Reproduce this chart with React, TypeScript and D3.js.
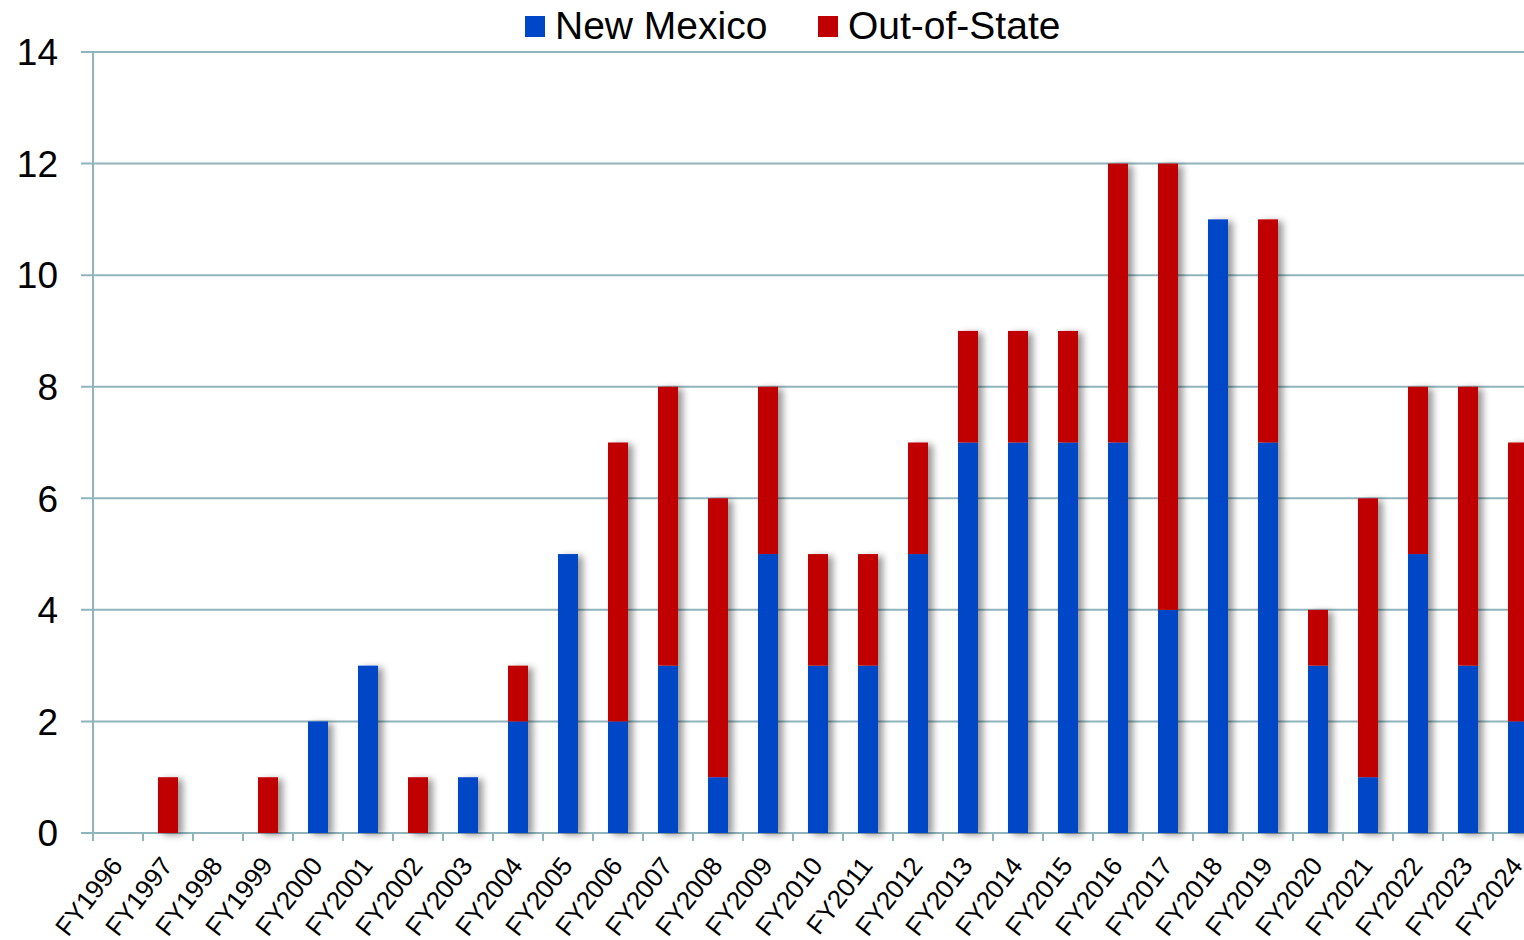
import * as d3 from "d3";
import { useEffect, useRef } from "react";

const years = [
  "FY1996", "FY1997", "FY1998", "FY1999", "FY2000", "FY2001", "FY2002", "FY2003",
  "FY2004", "FY2005", "FY2006", "FY2007", "FY2008", "FY2009", "FY2010", "FY2011",
  "FY2012", "FY2013", "FY2014", "FY2015", "FY2016", "FY2017", "FY2018", "FY2019",
  "FY2020", "FY2021", "FY2022", "FY2023", "FY2024",
];
const newMexico = [0, 0, 0, 0, 2, 3, 0, 1, 2, 5, 2, 3, 1, 5, 3, 3, 5, 7, 7, 7, 7, 4, 11, 7, 3, 1, 5, 3, 2];
const outOfState = [0, 1, 0, 1, 0, 0, 1, 0, 1, 0, 5, 5, 5, 3, 2, 2, 2, 2, 2, 2, 5, 8, 0, 4, 1, 5, 3, 5, 5];
const yTicks = [0, 2, 4, 6, 8, 10, 12, 14];

const seriesNames = ["New Mexico", "Out-of-State"];
const colors = ["#0046c8", "#c00000"];

const W = 1524;
const H = 940;
const axisColor = "#8fb4bc";
const font = "'Liberation Sans', Arial, sans-serif";

export default function App() {
  const ref = useRef<SVGSVGElement>(null);

  useEffect(() => {
    const svg = d3.select(ref.current);
    svg.selectAll("*").remove();

    const left = 93;
    const top = 52;
    const bottom = 833;
    const step = 50;

    // chart runs past the right edge, as in the picture
    const x = d3.scaleBand<string>().domain(years).range([left, left + step * years.length]);
    const y = d3.scaleLinear().domain([0, 14]).range([bottom, top]);

    const defs = svg.append("defs");
    const f = defs.append("filter").attr("id", "shadow")
      .attr("x", "-50%").attr("y", "-10%").attr("width", "200%").attr("height", "120%");
    f.append("feDropShadow")
      .attr("dx", 5).attr("dy", 2).attr("stdDeviation", 3.5)
      .attr("flood-color", "#000").attr("flood-opacity", 0.4);

    // gridlines
    svg.append("g").selectAll("line")
      .data(yTicks)
      .join("line")
      .attr("x1", left - 12)
      .attr("x2", W)
      .attr("y1", (d) => y(d))
      .attr("y2", (d) => y(d))
      .attr("stroke", axisColor)
      .attr("stroke-width", 2);

    // y axis line
    svg.append("line")
      .attr("x1", left).attr("x2", left)
      .attr("y1", top).attr("y2", bottom)
      .attr("stroke", axisColor).attr("stroke-width", 2);

    // x ticks at band edges
    svg.append("g").selectAll("line")
      .data(years)
      .join("line")
      .attr("x1", (d) => x(d)!)
      .attr("x2", (d) => x(d)!)
      .attr("y1", bottom)
      .attr("y2", bottom + 8)
      .attr("stroke", axisColor)
      .attr("stroke-width", 2);

    // y labels
    svg.append("g").selectAll("text")
      .data(yTicks)
      .join("text")
      .attr("x", 58)
      .attr("y", (d) => y(d))
      .attr("dy", "0.36em")
      .attr("text-anchor", "end")
      .attr("font-family", font)
      .attr("font-size", 37)
      .attr("fill", "#000")
      .text((d) => d);

    // x labels
    svg.append("g").selectAll("text")
      .data(years)
      .join("text")
      .attr("transform", (d) => `translate(${x(d)! + x.bandwidth() / 2 + 6},${bottom + 33}) rotate(-52)`)
      .attr("text-anchor", "end")
      .attr("font-family", font)
      .attr("font-size", 26)
      .attr("fill", "#000")
      .text((d) => d);

    // stacked bars
    const rows = years.map((yr, i) => ({ yr, a: newMexico[i], b: outOfState[i] }));
    const stack = d3.stack<{ yr: string; a: number; b: number }>().keys(["a", "b"]);
    const layers = stack(rows);
    const barW = 20;

    const bars = svg.append("g").attr("filter", "url(#shadow)");
    layers.forEach((layer, li) => {
      bars.append("g").selectAll("rect")
        .data(layer.filter((d) => d[1] - d[0] > 0))
        .join("rect")
        .attr("x", (d) => x(d.data.yr)! + (x.bandwidth() - barW) / 2)
        .attr("width", barW)
        .attr("y", (d) => y(d[1]))
        .attr("height", (d) => y(d[0]) - y(d[1]))
        .attr("fill", colors[li]);
    });

    // legend
    const legendX = [525, 818];
    const lg = svg.append("g");
    seriesNames.forEach((name, i) => {
      lg.append("rect")
        .attr("x", legendX[i]).attr("y", 16)
        .attr("width", 20).attr("height", 21)
        .attr("fill", colors[i]);
      lg.append("text")
        .attr("x", legendX[i] + 30).attr("y", 39)
        .attr("font-family", font)
        .attr("font-size", 39)
        .attr("fill", "#000")
        .text(name);
    });
  }, []);

  return (
    <svg
      ref={ref}
      width={W}
      height={H}
      style={{ position: "absolute", left: 0, top: 0, background: "#fff" }}
    />
  );
}
